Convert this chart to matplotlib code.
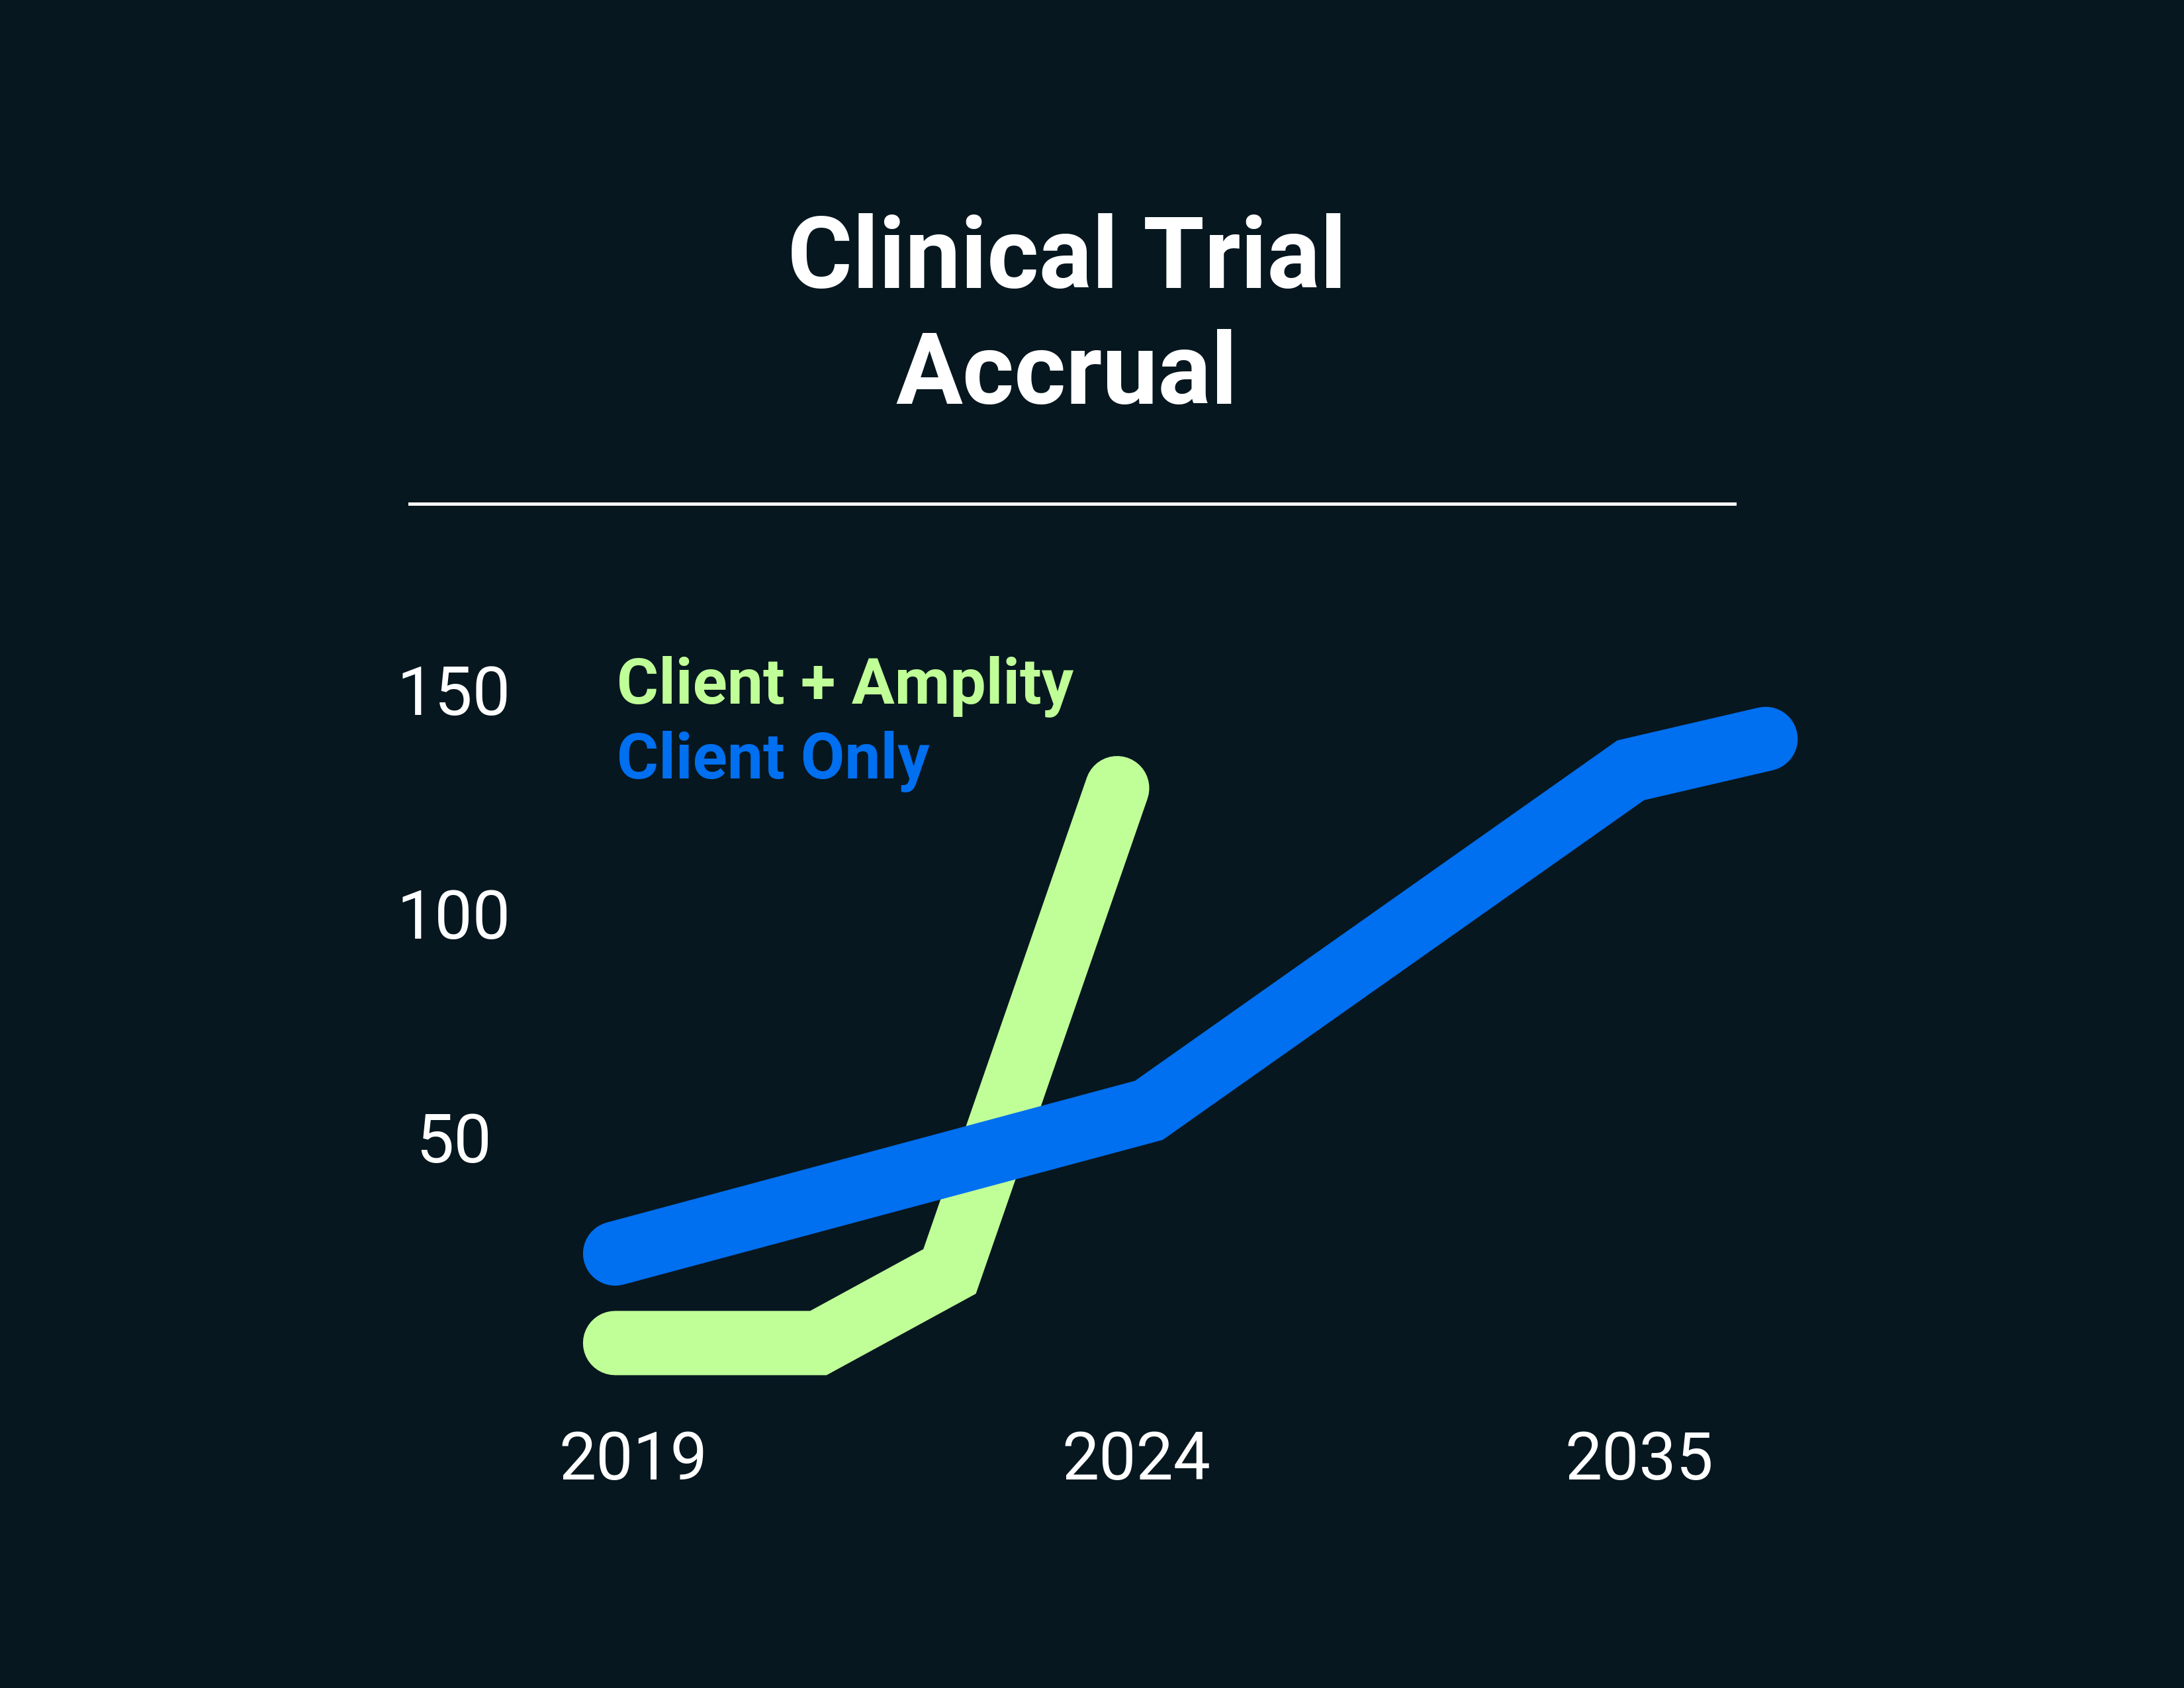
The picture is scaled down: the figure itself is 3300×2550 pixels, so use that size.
import matplotlib
matplotlib.use("Agg")
import matplotlib.pyplot as plt
from matplotlib.lines import Line2D

# ---- data ----
x_ticks = [0, 1, 2]
x_tick_labels = ["2019", "2024", "2035"]
y_ticks = [50, 100, 150]
y_tick_labels = ["50", "100", "150"]

amplity_x = [-0.036, 0.368, 0.629, 0.962]
amplity_y = [4, 4, 20, 128]
client_x = [-0.036, 1.025, 1.983, 2.251]
client_y = [24, 56, 132, 139]

series_names = ["Client + Amplity", "Client Only"]
title_text = "Clinical Trial\nAccrual"

# ---- style ----
BG = "#07171f"
GREEN = "#c0ff98"
BLUE = "#006ff0"
WHITE = "#ffffff"
FONT = ["Roboto", "DejaVu Sans"]
plt.rcParams["font.family"] = FONT

W, H, DPI = 3300, 2550, 300
fig = plt.figure(figsize=(W / DPI, H / DPI), dpi=DPI, facecolor=BG)

# axes frame in pixels (left, right, top, bottom)
L, R, T, B = 880, 2740, 1000, 2110
ax = fig.add_axes([L / W, (H - B) / H, (R - L) / W, (B - T) / H])
ax.set_facecolor(BG)
ax.set_xlim(-0.101, 2.346)
ax.set_ylim(-8.0, 156.2)
for s in ax.spines.values():
    s.set_visible(False)

lw = 23.3
ax.plot(amplity_x, amplity_y, color=GREEN, lw=lw, solid_capstyle="round",
        solid_joinstyle="miter", clip_on=False, zorder=2)
ax.plot(client_x, client_y, color=BLUE, lw=lw, solid_capstyle="round",
        solid_joinstyle="miter", clip_on=False, zorder=3)

ax.set_xticks(x_ticks)
ax.set_xticklabels(x_tick_labels, fontsize=24, color=WHITE, va="baseline")
ax.set_yticks(y_ticks)
ax.set_yticklabels(y_tick_labels, fontsize=24.5, color=WHITE, ha="center")
ax.tick_params(axis="x", length=0, pad=30)
ax.tick_params(axis="y", length=0, pad=46.6)

# title (baseline of last line anchored)
fig.text(1612 / W, 1 - 610 / H, title_text, ha="center", va="baseline",
         fontsize=36, fontweight="bold", color=WHITE, linespacing=1.27,
         multialignment="center")

# rule
fig.add_artist(Line2D([619 / W, 2621 / W], [1 - 761 / H, 1 - 761 / H],
                      color=WHITE, lw=1.2, transform=fig.transFigure))

# legend labels
fig.text(932 / W, 1 - 1063 / H, series_names[0], ha="left", va="baseline",
         fontsize=23.2, fontweight="bold", color=GREEN)
fig.text(932 / W, 1 - 1176 / H, series_names[1], ha="left", va="baseline",
         fontsize=23.2, fontweight="bold", color=BLUE)

fig.savefig("out.png", dpi=DPI, facecolor=BG)
